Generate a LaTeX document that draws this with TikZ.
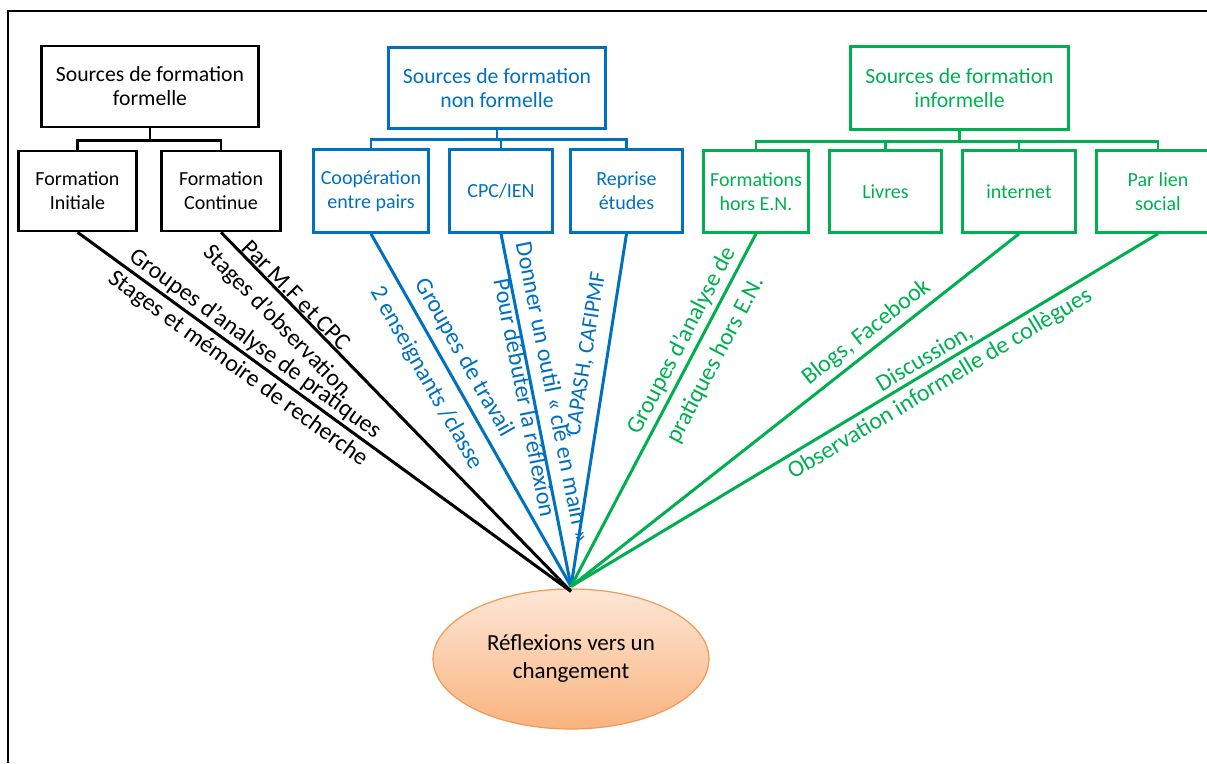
\documentclass[tikz,border=0pt]{standalone}
\usepackage{fontspec}
\setmainfont{Carlito}
\usetikzlibrary{shapes.geometric}
\definecolor{bleu}{HTML}{0070C0}
\definecolor{vert}{HTML}{00B050}
\definecolor{peche}{HTML}{FDE7D7}
\definecolor{abricot}{HTML}{F9B37E}
\definecolor{bordorange}{HTML}{F09A55}
\begin{document}
\begin{tikzpicture}[x=1pt, y=1pt,
  boite/.style={draw, line width=2.6pt, align=center, inner sep=1pt,
    minimum height=80pt, font=\fontsize{20}{24}\selectfont},
  tete/.style={boite, minimum width=217pt, minimum height=81pt,
    font=\fontsize{21.7}{24}\selectfont},
  branche/.style={line width=2.6pt},
  lien/.style={line width=3pt},
  etiq/.style={sloped, inner sep=0pt, text height=17pt, text depth=5pt,
    font=\fontsize{24}{28}\selectfont},
  reve/.style={ellipse, draw=bordorange, line width=1.2pt, top color=peche,
    bottom color=abricot, minimum width=276pt, minimum height=140pt,
    align=center, font=\fontsize{23}{28}\selectfont}]
  \path[use as bounding box, clip] (0,0) rectangle (1207,763);
  % Cadre
  \draw[line width=2pt] (8,0) -- (8,752) -- (1210,752);
  % Formelle
  \node[tete] (fsrc) at (150,676.5) {Sources de formation\\formelle};
  \node[boite, minimum width=118pt] (finit) at (77.5,572) {Formation\\Initiale};
  \node[boite, minimum width=119pt] (fcont) at (221,572) {Formation\\Continue};
  \draw[branche] (fsrc.south) -- ++(0,-12) -| (finit.north);
  \draw[branche] (fsrc.south) -- ++(0,-12) -| (fcont.north);
  % Non formelle
  \begin{scope}[bleu]
    \node[tete] (nsrc) at (497,675) {Sources de formation\\non formelle};
    \node[boite, minimum width=115pt, minimum height=83pt] (ncoop) at (371,572) {Coopération\\entre pairs};
    \node[boite, minimum width=103pt, minimum height=83pt] (ncpc) at (501,572) {CPC/IEN};
    \node[boite, minimum width=112pt, minimum height=83pt] (nrep) at (626.5,572) {Reprise\\études};
    \foreach \n in {ncoop,ncpc,nrep}
      \draw[branche] (nsrc.south) -- ++(0,-10) -| (\n.north);
  \end{scope}
  % Informelle
  \begin{scope}[vert]
    \node[tete, minimum width=218pt, minimum height=83pt] (isrc) at (959.5,675) {Sources de formation\\informelle};
    \node[boite, minimum width=105pt, minimum height=82pt] (ihors) at (756,571.5) {Formations\\hors E.N.};
    \node[boite, minimum width=112pt, minimum height=82pt] (ilivres) at (885.5,571.5) {Livres};
    \node[boite, minimum width=113pt, minimum height=82pt] (inet) at (1019,571.5) {internet};
    \node[boite, minimum width=123pt, minimum height=82pt] (isoc) at (1158,571.5) {Par lien\\social};
    \foreach \n in {ihors,ilivres,inet,isoc}
      \draw[branche] (isrc.south) -- ++(0,-11) -| (\n.north);
  \end{scope}
  % Ellipse
  \node[reve] (refl) at (571,104) {Réflexions vers un\\changement};
  % Liens noirs
  \draw[lien] (finit.south) --
    node[etiq, pos=.343, above=1pt] (t1) {Groupes d’analyse de pratiques}
    node[etiq, pos=.344, below=4pt] (t2) {Stages et mémoire de recherche} ([yshift=-3pt]refl.north);
  \draw[lien] (fcont.south) --
    node[etiq, pos=.195, above=-4pt] (t3) {Par M.F et CPC}
    node[etiq, pos=.204, below=10pt] (t4) {Stages d’observation} ([yshift=-3pt]refl.north);
  % Liens bleus
  \begin{scope}[bleu]
    \draw[lien] (ncoop.south) --
      node[etiq, pos=.38, above=7pt] (t5) {Groupes de travail}
      node[etiq, pos=.378, below=11pt] (t6) {2 enseignants /classe} ([yshift=2pt]refl.north);
    \draw[lien] (ncpc.south) --
      node[etiq, pos=.46, above=6pt] (t7) {Donner un outil « clé  en main »}
      node[etiq, pos=.46, below=-2pt] (t8) {Pour débuter la réflexion} ([yshift=2pt]refl.north);
    \draw[lien] (nrep.south) --
      node[etiq, pos=.35, above=8.5pt, font=\fontsize{22.5}{27}\selectfont] (t9) {CAPASH,  CAFIPMF} ([yshift=2pt]refl.north);
  \end{scope}
  % Liens verts
  \begin{scope}[vert]
    \draw[lien] (ihors.south) --
      node[etiq, pos=.324, above=2.7pt] (t10) {Groupes d’analyse de}
      node[etiq, pos=.327, below=11pt] (t11) {pratiques hors E.N.} ([yshift=2pt]refl.north);
    \draw[lien] (inet.south) --
      node[etiq, pos=.317, above=3.6pt] (t12) {Blogs, Facebook} ([yshift=2pt]refl.north);
    \draw[lien] (isoc.south) --
      node[etiq, pos=.386, above=0pt] (t13) {Discussion,}
      node[etiq, pos=.386, below=4.7pt] (t14) {Observation informelle de collègues} ([yshift=2pt]refl.north);
  \end{scope}
\end{tikzpicture}
\end{document}
